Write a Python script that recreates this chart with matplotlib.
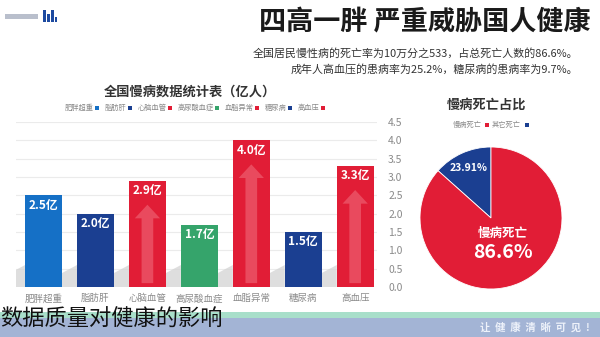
import numpy as np
import matplotlib
matplotlib.use("Agg")
import matplotlib.pyplot as plt
from matplotlib.patches import Rectangle, Polygon

plt.rcParams['font.family'] = ['Noto Sans CJK SC', 'DejaVu Sans']

# chronic disease counts (100 million people), left to right
categories = ["肥胖超重", "脂肪肝", "心脑血管", "高尿酸血症", "血脂异常", "糖尿病", "高血压"]
values = [2.5, 2.0, 2.9, 1.7, 4.0, 1.5, 3.3]
value_labels = ["2.5亿", "2.0亿", "2.9亿", "1.7亿", "4.0亿", "1.5亿", "3.3亿"]
yticks = [0.0, 0.5, 1.0, 1.5, 2.0, 2.5, 3.0, 3.5, 4.0, 4.5]

# share of deaths
pie_names = ["其它死亡", "慢病死亡"]
pie_values = [13.4, 86.6]
pie_small_label = "23.91%"

title = "四高一胖 严重威胁国人健康"
subtitle = ["全国居民慢性病的死亡率为10万分之533，占总死亡人数的86.6%。",
            "成年人高血压的患病率为25.2%，糖尿病的患病率为9.7%。"]

RED = "#e11d36"
BLUE = "#1570c6"
NAVY = "#1b3f91"
GREEN = "#35a46b"
bar_colors = [BLUE, NAVY, RED, GREEN, RED, NAVY, RED]

W, H = 600, 337
fig = plt.figure(figsize=(W / 100, H / 100), dpi=100)
fig.patch.set_facecolor("white")


def px(x, y):
    return x / W, 1 - y / H


def rect_px(x, y, w, h, color, **kw):
    fig.patches.append(Rectangle((x / W, 1 - (y + h) / H), w / W, h / H,
                                 transform=fig.transFigure, facecolor=color,
                                 edgecolor="none", **kw))


# header
fig.text(*px(591, 22), title, ha="right", va="center", fontsize=19.5,
         fontweight="bold", color="#1a1a1a")
fig.text(*px(578, 53), subtitle[0], ha="right", va="center", fontsize=7.9, color="#333333")
fig.text(*px(578, 69), subtitle[1], ha="right", va="center", fontsize=7.9, color="#333333")

# logo mark
for lx, lh in [(43, 12), (47, 8), (51, 12), (55, 5)]:
    rect_px(lx, 28 - lh - 6, 2.5, lh, "#1d4aa0")
rect_px(5, 14, 33, 5, "#b9bfcc")

# bar chart
ax = fig.add_axes([16 / W, 1 - 287 / H, (377 - 16) / W, (287 - 122) / H])
x = np.arange(len(categories))
bw = 0.71
ax.set_xlim(-0.53, len(categories) - 1 + 0.42)
ax.set_ylim(0, 4.5)
ax.set_yticks(yticks)
ax.set_yticklabels([f"{t:.1f}" for t in yticks], fontsize=7.5, color="#8a8a8a")
ax.yaxis.tick_right()
ax.tick_params(axis="y", length=0, pad=8)
ax.grid(axis="y", color="#ebebeb", lw=0.8, zorder=0)
ax.set_axisbelow(True)
for s in ax.spines.values():
    s.set_visible(False)
ax.set_xticks(x)
ax.set_xticklabels(categories, fontsize=6.8, color="#8a8a8a")
ax.tick_params(axis="x", length=0, pad=5)

gap = 1 - bw
for xi in x:
    xl = xi - bw / 2
    ax.add_patch(Polygon([(xl, 0), (xl, 0.6), (xl - gap, 0.38), (xl - gap, 0)],
                         closed=True, facecolor="#d4d4d4", edgecolor="none",
                         alpha=0.75, zorder=1))

ax.bar(x, values, width=bw, color=bar_colors, zorder=2)
for xi, v, lab, c in zip(x, values, value_labels, bar_colors):
    if c == RED:
        ax.annotate("", xy=(xi, v - 0.58), xytext=(xi, 0.03),
                    arrowprops=dict(arrowstyle="simple,head_length=0.7,head_width=1.3,tail_width=0.6",
                                    mutation_scale=14, fc="#f58a96", ec="none", alpha=0.42),
                    zorder=3)
    ax.text(xi, v - 0.27, lab, ha="center", va="center", color="white",
            fontsize=8.5, fontweight="bold", zorder=4)

fig.text(*px(190, 92), "全国慢病数据统计表（亿人）", ha="center", va="center",
         fontsize=9.5, fontweight="bold", color="#333333")

# bar legend
cur = 65
cw = 7.0
for name, c in zip(categories, bar_colors):
    fig.text(*px(cur, 108), name, ha="left", va="center", fontsize=5.2, color="#8a8a8a")
    cur += len(name) * cw + 2
    rect_px(cur, 106, 4, 4, c)
    cur += 4 + 6

# pie chart
pax = fig.add_axes([(491 - 71) / W, 1 - (218 + 71) / H, 142 / W, 142 / H])
pax.pie(pie_values, colors=[NAVY, RED], startangle=90, counterclock=True,
        wedgeprops=dict(edgecolor="white", linewidth=0.6))
pax.set_xlim(-1, 1)
pax.set_ylim(-1, 1)
pax.set_aspect("equal")
pax.axis("off")

fig.text(*px(469, 168), pie_small_label, ha="center", va="center", fontsize=7.5,
         fontweight="bold", color="white")
fig.text(*px(503, 233), pie_names[1], ha="center", va="center", fontsize=9,
         fontweight="bold", color="white")
fig.text(*px(503, 253), f"{pie_values[1]}%", ha="center", va="center", fontsize=14,
         fontweight="bold", color="white")

fig.text(*px(487, 105), "慢病死亡占比", ha="center", va="center", fontsize=9.5,
         fontweight="bold", color="#333333")
fig.text(*px(453, 125), pie_names[1], ha="left", va="center", fontsize=5.2, color="#8a8a8a")
rect_px(485, 123, 4, 4, RED)
fig.text(*px(492, 125), pie_names[0], ha="left", va="center", fontsize=5.2, color="#8a8a8a")
rect_px(525, 123, 4, 4, NAVY)

# footer band
rect_px(0, 312, W, 6, "#a8dfca")
rect_px(0, 318, W, 19, "#a3b4d5")
fig.text(*px(590, 327), "让  健  康  清  晰  可  见  !", ha="right", va="center",
         fontsize=7.5, fontweight="bold", color="#eef2fa")

fig.text(*px(0, 319), "数据质量对健康的影响", ha="left", va="center",
         fontsize=16, fontweight="light", color="#111111")

fig.savefig("out.png", dpi=100)
